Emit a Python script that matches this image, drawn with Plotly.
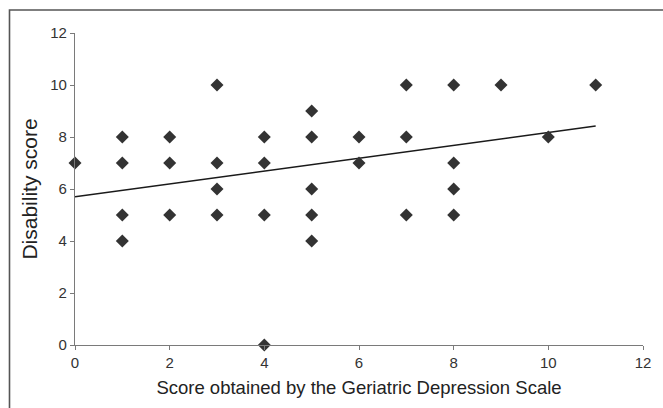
import plotly.graph_objects as go

# GDS score (x) and disability score (y) for each observed point
gds_score = [0,
             1, 1, 1, 1,
             2, 2, 2,
             3, 3, 3, 3,
             4, 4, 4, 4,
             5, 5, 5, 5, 5,
             6, 6,
             7, 7, 7,
             8, 8, 8, 8,
             9, 10, 11]
disability_score = [7,
                    8, 7, 5, 4,
                    8, 7, 5,
                    10, 7, 6, 5,
                    8, 7, 5, 0,
                    9, 8, 6, 5, 4,
                    8, 7,
                    10, 8, 5,
                    10, 7, 6, 5,
                    10, 8, 10]

# Linear trend line endpoints
trend_x = [0, 11]
trend_y = [5.70, 8.42]

tick_vals = [0, 2, 4, 6, 8, 10, 12]

FONT = "Liberation Sans, Arial, sans-serif"

fig = go.Figure()
fig.add_trace(go.Scatter(
    x=trend_x, y=trend_y, mode="lines",
    line=dict(color="#1a1a1a", width=1.6),
    showlegend=False, hoverinfo="skip", cliponaxis=False,
))
fig.add_trace(go.Scatter(
    x=gds_score, y=disability_score, mode="markers",
    marker=dict(symbol="diamond", size=10, color="#333333"),
    showlegend=False, cliponaxis=False,
))

axis_common = dict(
    showgrid=False, zeroline=False, showline=True,
    linecolor="#7a7a7a", linewidth=1.2,
    ticks="outside", ticklen=4, tickwidth=1, tickcolor="#7a7a7a",
    tickfont=dict(family=FONT, size=15, color="#333333"),
    tickvals=tick_vals,
)

fig.update_xaxes(range=[0, 12], **axis_common,
                 title=dict(text="Score obtained by the Geriatric Depression Scale",
                            font=dict(family=FONT, size=18.5, color="#222222"),
                            standoff=10))
fig.update_yaxes(range=[0, 12], **axis_common,
                 title=dict(text="Disability score",
                            font=dict(family=FONT, size=21, color="#222222"),
                            standoff=6))

# outer frame
pw = 663 - 75 - 20
ph = 408 - 33 - 63
fig.add_shape(type="rect", xref="paper", yref="paper",
              x0=(9.5 - 75) / pw, x1=1 + 40 / pw,
              y0=-(63 + 20) / ph, y1=1 + (33 - 10) / ph,
              line=dict(color="#555555", width=1.6), fillcolor="rgba(0,0,0,0)")

fig.update_layout(
    width=663, height=408,
    margin=dict(l=75, r=20, t=33, b=63, autoexpand=False),
    paper_bgcolor="white", plot_bgcolor="white",
    font=dict(family=FONT),
)

fig.write_html("out.html",
               config={"displayModeBar": False},
               post_script="document.body.style.margin='0';document.body.style.overflow='hidden';")
